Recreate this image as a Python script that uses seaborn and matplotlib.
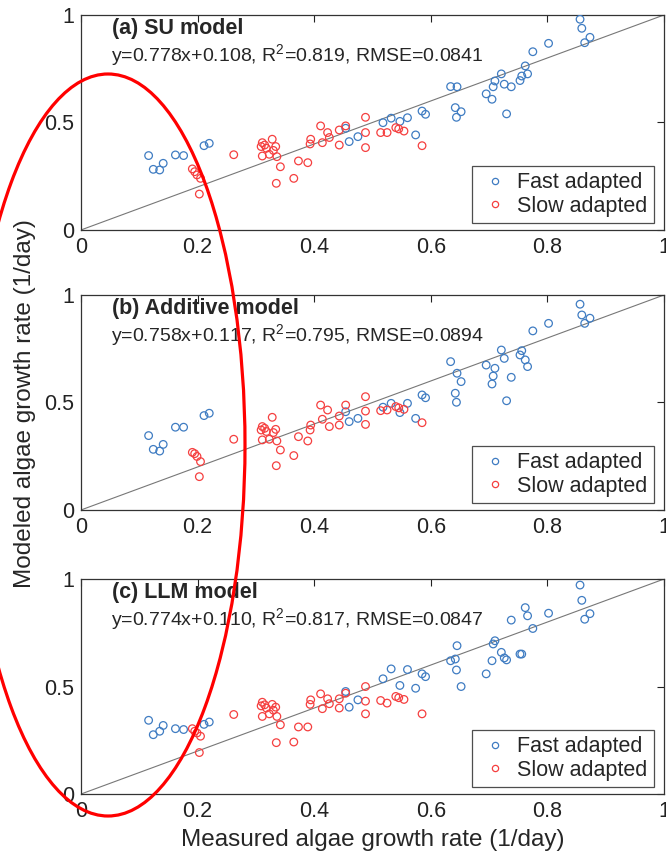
import matplotlib
matplotlib.use("Agg")
import matplotlib.pyplot as plt
import seaborn as sns
import pandas as pd
from matplotlib.lines import Line2D
from matplotlib.patches import Ellipse

# Measured growth rates (1/day)
fast_x = [0.116, 0.124, 0.135, 0.141, 0.162, 0.176, 0.211, 0.220, 0.454, 0.460,
          0.475, 0.518, 0.532, 0.547, 0.560, 0.574, 0.585, 0.591, 0.634, 0.642,
          0.644, 0.645, 0.652, 0.695, 0.705, 0.707, 0.710, 0.721, 0.726, 0.730,
          0.738, 0.753, 0.756, 0.762, 0.766, 0.775, 0.802, 0.856, 0.859, 0.864,
          0.873]
slow_x = [0.191, 0.195, 0.199, 0.205, 0.203, 0.262, 0.309, 0.311, 0.311, 0.315,
          0.318, 0.323, 0.328, 0.330, 0.334, 0.336, 0.342, 0.335, 0.365, 0.373,
          0.389, 0.393, 0.394, 0.411, 0.414, 0.423, 0.426, 0.443, 0.443, 0.454,
          0.488, 0.488, 0.488, 0.514, 0.525, 0.540, 0.545, 0.554, 0.585]

# Modeled growth rates, one list per model
su_fast = [0.346, 0.282, 0.279, 0.310, 0.349, 0.346, 0.392, 0.403, 0.473, 0.411,
           0.434, 0.499, 0.520, 0.505, 0.522, 0.442, 0.553, 0.538, 0.667, 0.569,
           0.524, 0.666, 0.550, 0.633, 0.608, 0.666, 0.693, 0.726, 0.678, 0.540,
           0.666, 0.695, 0.716, 0.763, 0.726, 0.829, 0.868, 0.980, 0.938, 0.871,
           0.896]
su_slow = [0.284, 0.271, 0.256, 0.240, 0.167, 0.350, 0.388, 0.406, 0.344, 0.395,
           0.380, 0.352, 0.422, 0.370, 0.388, 0.341, 0.294, 0.217, 0.240, 0.321,
           0.313, 0.400, 0.422, 0.484, 0.406, 0.453, 0.430, 0.465, 0.395, 0.484,
           0.524, 0.453, 0.383, 0.453, 0.453, 0.476, 0.470, 0.460, 0.392]

add_fast = [0.346, 0.282, 0.274, 0.305, 0.385, 0.385, 0.439, 0.450, 0.457, 0.411,
            0.426, 0.478, 0.496, 0.453, 0.496, 0.426, 0.535, 0.522, 0.690, 0.543,
            0.501, 0.636, 0.597, 0.674, 0.586, 0.623, 0.659, 0.744, 0.705, 0.508,
            0.617, 0.721, 0.741, 0.698, 0.667, 0.833, 0.868, 0.957, 0.907, 0.868,
            0.892]
add_slow = [0.268, 0.262, 0.249, 0.225, 0.155, 0.329, 0.372, 0.388, 0.326, 0.380,
            0.365, 0.329, 0.431, 0.360, 0.375, 0.321, 0.279, 0.206, 0.253, 0.341,
            0.321, 0.372, 0.395, 0.488, 0.422, 0.465, 0.388, 0.437, 0.395, 0.488,
            0.527, 0.460, 0.398, 0.462, 0.465, 0.481, 0.475, 0.468, 0.406]

llm_fast = [0.343, 0.276, 0.292, 0.319, 0.304, 0.300, 0.324, 0.335, 0.477, 0.404,
            0.438, 0.536, 0.582, 0.505, 0.579, 0.492, 0.559, 0.546, 0.620, 0.628,
            0.577, 0.690, 0.500, 0.559, 0.620, 0.698, 0.713, 0.659, 0.633, 0.624,
            0.809, 0.651, 0.651, 0.867, 0.829, 0.770, 0.841, 0.972, 0.901, 0.813,
            0.839]
llm_slow = [0.304, 0.292, 0.284, 0.269, 0.193, 0.370, 0.410, 0.427, 0.361, 0.415,
            0.400, 0.373, 0.417, 0.390, 0.404, 0.361, 0.322, 0.239, 0.242, 0.312,
            0.312, 0.417, 0.438, 0.466, 0.397, 0.443, 0.420, 0.443, 0.400, 0.469,
            0.500, 0.432, 0.373, 0.435, 0.423, 0.454, 0.448, 0.440, 0.373]

titles = ["(a) SU model", "(b) Additive model", "(c) LLM model"]
equations = ["y=0.778x+0.108, R$^\\mathregular{2}$=0.819, RMSE=0.0841",
             "y=0.758x+0.117, R$^\\mathregular{2}$=0.795, RMSE=0.0894",
             "y=0.774x+0.110, R$^\\mathregular{2}$=0.817, RMSE=0.0847"]
fast_sets = [su_fast, add_fast, llm_fast]
slow_sets = [su_slow, add_slow, llm_slow]
labels = ["Fast adapted", "Slow adapted"]

x_ticks = [0, 0.2, 0.4, 0.6, 0.8, 1]
x_ticklabels = ["0", "0.2", "0.4", "0.6", "0.8", "1"]
y_ticks = [0, 0.5, 1]
y_ticklabels = ["0", "0.5", "1"]

sns.set_style("white")
plt.rcParams["font.family"] = ["Liberation Sans", "DejaVu Sans"]
plt.rcParams["mathtext.fontset"] = "custom"
plt.rcParams["mathtext.rm"] = "Liberation Sans"

blue = "#3f7cc2"
red = "#f53f3f"

fig = plt.figure(figsize=(6.66, 8.60), dpi=100)
bottoms = [0.7326, 0.407, 0.0767]
left, width, height = 0.1216, 0.8754, 0.250

for i in range(3):
    ax = fig.add_axes([left, bottoms[i], width, height])
    ax.plot([0, 1], [0, 1], color="#777777", lw=0.8, zorder=1)
    df_f = pd.DataFrame({"x": fast_x, "y": fast_sets[i]})
    df_s = pd.DataFrame({"x": slow_x, "y": slow_sets[i]})
    for df, c in [(df_f, blue), (df_s, red)]:
        sns.scatterplot(data=df, x="x", y="y", ax=ax, marker="o", s=30, color=c,
                        linewidth=0.9, zorder=3)
    # hollow circles
    for coll in ax.collections:
        fc = coll.get_facecolors()
        coll.set_edgecolors(fc)
        coll.set_facecolors("none")

    ax.set_xlim(0, 1)
    ax.set_ylim(0, 1)
    ax.set_xticks(x_ticks)
    ax.set_xticklabels(x_ticklabels)
    ax.set_yticks(y_ticks)
    ax.set_yticklabels(y_ticklabels)
    ax.set_xlabel("")
    ax.set_ylabel("")
    ax.tick_params(direction="in", length=5, width=0.8, top=True, right=True,
                   labelsize=15.5, pad=5, colors="#222222")
    for sp in ax.spines.values():
        sp.set_color("#333333")
        sp.set_linewidth(0.9)

    ax.text(0.053, 0.988, titles[i], transform=ax.transAxes, fontsize=15.5,
            fontweight="bold", va="top", ha="left")
    ax.text(0.051, 0.81, equations[i], transform=ax.transAxes, fontsize=14,
            va="center", ha="left")

    handles = [Line2D([], [], marker="o", ls="none", mfc="none", mec=blue,
                      ms=4.5, mew=0.9),
               Line2D([], [], marker="o", ls="none", mfc="none", mec=red,
                      ms=4.5, mew=0.9)]
    leg = ax.legend(handles, labels, loc="lower right", fontsize=15.5,
                    frameon=True, fancybox=False, handlelength=1.5,
                    handletextpad=0.3, labelspacing=0.12, borderpad=0.3,
                    borderaxespad=0, bbox_to_anchor=(0.983, 0.031))
    leg.get_frame().set_edgecolor("#222222")
    leg.get_frame().set_linewidth(0.9)

fig.text(25 / 666, 1 - 404 / 860, "Modeled algae growth rate (1/day)",
         rotation=90, ha="center", va="center", fontsize=17.5)
fig.text(373 / 666, 1 - 840 / 860, "Measured algae growth rate (1/day)",
         ha="center", va="center", fontsize=17.5)

# red ellipse annotation drawn over the figure (pixel coords)
ell = Ellipse((108 / 666, 1 - 445 / 860), 274 / 666, 742 / 860,
              transform=fig.transFigure, fill=False, edgecolor="red", lw=2.3,
              zorder=10)
fig.patches.append(ell)

fig.savefig("out.png", dpi=100)
